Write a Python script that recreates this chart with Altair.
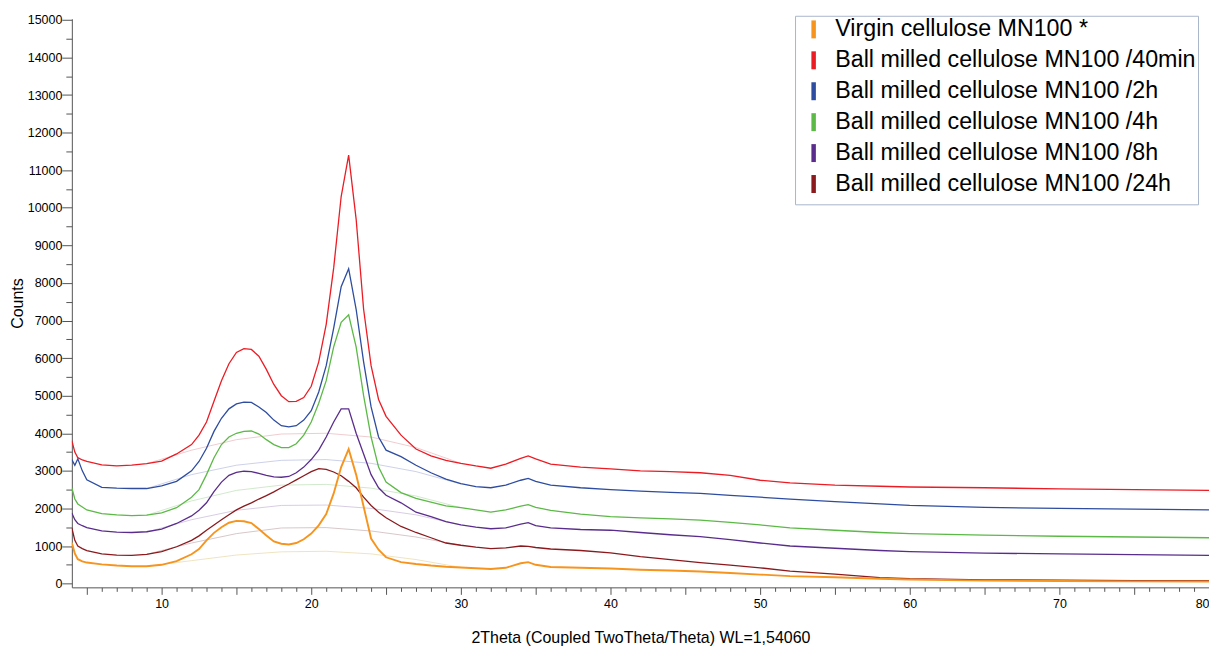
import altair as alt
import pandas as pd

# 2-theta positions (degrees) at which the traces were read
X = [4.0, 4.2, 4.4, 4.7, 5.0, 6, 7, 8, 9, 10, 11, 12, 12.5, 13, 13.5, 14, 14.5, 15, 15.5, 16,
     16.5, 17, 17.5, 18, 18.5, 19, 19.5, 20, 20.5, 21, 21.5, 22, 22.5, 23, 23.5, 24, 24.5, 25,
     26, 27, 28, 29, 30, 31, 32, 33, 34, 34.5, 35, 36, 38, 40, 42, 44, 46, 48, 50, 52, 55, 58,
     60, 65, 70, 75, 80]

RED_40MIN = [3800, 3500, 3350, 3290, 3250, 3160, 3130, 3150, 3190, 3260, 3450, 3700, 3950, 4300,
             4850, 5400, 5850, 6150, 6250, 6230, 6050, 5700, 5300, 5000, 4840, 4850, 4950, 5250,
             5900, 6900, 8400, 10300, 11400, 9700, 7300, 5800, 4900, 4450, 3950, 3580, 3400,
             3280, 3200, 3130, 3070, 3180, 3330, 3400, 3320, 3180, 3100, 3050, 3000, 2980, 2950,
             2880, 2750, 2680, 2620, 2590, 2570, 2550, 2520, 2500, 2480]

BLUE_2H = [3300, 3150, 3320, 3000, 2760, 2560, 2540, 2530, 2530, 2600, 2720, 3000, 3250, 3600,
           4050, 4400, 4650, 4780, 4830, 4820, 4700, 4550, 4350, 4200, 4170, 4200, 4350, 4600,
           5100, 5800, 6800, 7900, 8380, 7300, 5900, 4700, 3900, 3550, 3380, 3150, 2950, 2780,
           2660, 2580, 2550, 2620, 2750, 2800, 2720, 2620, 2550, 2500, 2460, 2430, 2400, 2350,
           2300, 2250, 2180, 2120, 2080, 2030, 2000, 1980, 1960]

GREEN_4H = [2550, 2250, 2120, 2040, 1960, 1860, 1830, 1810, 1820, 1880, 2020, 2300, 2500, 2900,
            3350, 3700, 3900, 4000, 4050, 4060, 3980, 3830, 3700, 3620, 3620, 3720, 3950, 4300,
            4800, 5400, 6300, 6950, 7150, 6300, 5000, 3900, 3100, 2700, 2420, 2270, 2170, 2070,
            2020, 1960, 1900, 1960, 2060, 2100, 2030, 1950, 1850, 1780, 1750, 1720, 1690, 1630,
            1560, 1480, 1420, 1360, 1330, 1290, 1260, 1240, 1220]

PURPLE_8H = [1880, 1700, 1600, 1540, 1490, 1400, 1370, 1360, 1380, 1450, 1600, 1800, 1950, 2150,
             2450, 2700, 2880, 2960, 2990, 2980, 2930, 2880, 2840, 2830, 2850, 2950, 3100, 3300,
             3550, 3900, 4300, 4650, 4650, 4000, 3450, 2900, 2550, 2350, 2150, 1900, 1780, 1650,
             1560, 1500, 1460, 1480, 1580, 1620, 1540, 1480, 1440, 1420, 1360, 1300, 1250, 1170,
             1080, 1000, 940, 880, 850, 810, 790, 770, 750]

DARKRED_24H = [1480, 1150, 1000, 930, 880, 790, 760, 750, 780, 850, 980, 1150, 1270, 1420, 1560,
               1700, 1830, 1960, 2060, 2150, 2250, 2340, 2440, 2550, 2650, 2760, 2870, 2980,
               3060, 3040, 2970, 2870, 2720, 2550, 2300, 2080, 1900, 1750, 1520, 1360, 1220,
               1080, 1020, 970, 930, 950, 1000, 990, 960, 920, 880, 820, 720, 640, 560, 490, 420,
               330, 250, 160, 130, 100, 90, 80, 80]

ORANGE_VIRGIN = [1090, 800, 650, 590, 560, 510, 480, 460, 460, 500, 600, 780, 920, 1150, 1350,
                 1500, 1620, 1670, 1660, 1610, 1450, 1280, 1120, 1060, 1040, 1080, 1180, 1330,
                 1550, 1850, 2400, 3100, 3580, 2900, 2050, 1200, 900, 700, 570, 520, 480, 450,
                 430, 410, 390, 420, 540, 570, 500, 440, 420, 400, 370, 350, 320, 280, 240, 200,
                 170, 130, 110, 80, 70, 60, 55]

# faint amorphous background humps
BG_X = [9, 12, 15, 18, 21, 24, 27, 30]
BG_VIRGIN = [460, 610, 760, 845, 860, 790, 640, 430]
BG_40MIN = [3190, 3550, 3830, 3980, 4000, 3900, 3620, 3200]
BG_2H = [2530, 2900, 3150, 3280, 3300, 3200, 2980, 2650]
BG_4H = [1820, 2200, 2480, 2620, 2640, 2540, 2330, 2020]
BG_8H = [1370, 1700, 1950, 2080, 2090, 2000, 1830, 1560]
BG_24H = [780, 1080, 1330, 1480, 1490, 1400, 1240, 1020]

SERIES = ["Virgin cellulose MN100 *",
          "Ball milled cellulose MN100 /40min",
          "Ball milled cellulose MN100 /2h",
          "Ball milled cellulose MN100 /4h",
          "Ball milled cellulose MN100 /8h",
          "Ball milled cellulose MN100 /24h"]
COLORS = ["#f7941e", "#ec1c24", "#2e4da0", "#5cb947", "#5a2d8c", "#8a1a1d"]
BG_COLORS = ["#e8d9a8", "#e8b8bc", "#b8bfe0", "#bfe0b8", "#c8b8d8", "#c8b0b4"]

main_vals = [ORANGE_VIRGIN, RED_40MIN, BLUE_2H, GREEN_4H, PURPLE_8H, DARKRED_24H]
bg_vals = [BG_VIRGIN, BG_40MIN, BG_2H, BG_4H, BG_8H, BG_24H]
widths = {SERIES[0]: 1.9}

rows = []
# draw milled series first, virgin last (on top)
for i in list(range(1, 6)) + [0]:
    for x, y in zip(X, main_vals[i]):
        rows.append({"x": x, "y": y, "series": SERIES[i], "order": i,
                     "w": widths.get(SERIES[i], 1.3)})
df = pd.DataFrame(rows)

bg_rows = []
for i in range(6):
    for x, y in zip(BG_X, bg_vals[i]):
        bg_rows.append({"x": x, "y": y, "series": SERIES[i] + " bg"})
df_bg = pd.DataFrame(bg_rows)

FONT = "Liberation Sans"

x_scale = alt.Scale(domain=[4, 80], nice=False, zero=False)
y_scale = alt.Scale(domain=[-100, 15030], nice=False, zero=False)

x_axis = alt.Axis(
    values=list(range(5, 81)),
    labelExpr="datum.value % 10 === 0 ? datum.label : ''",
    tickSize={"condition": {"test": "datum.value % 5 === 0", "value": 7}, "value": 4},
    grid=False, domainColor="#555555", tickColor="#555555", labelColor="#000000",
    labelFont=FONT, labelFontSize=12.5, labelPadding=3, labelFlush=True,
    title="2Theta (Coupled TwoTheta/Theta) WL=1,54060", titleFont=FONT,
    titleFontSize=16, titleFontWeight="normal", titleColor="#000000", titlePadding=20,
)
y_axis = alt.Axis(
    values=list(range(0, 15001, 500)),
    labelExpr="datum.value % 1000 === 0 ? format(datum.value, 'd') : ''",
    tickSize={"condition": {"test": "datum.value % 1000 === 0", "value": 10}, "value": 6},
    grid=False, domainColor="#555555", tickColor="#555555", labelColor="#000000",
    labelFont=FONT, labelFontSize=12.5, labelPadding=0,
    title="Counts", titleFont=FONT, titleFontSize=16, titleFontWeight="normal",
    titleColor="#000000", titlePadding=2,
)

bg = alt.Chart(df_bg).mark_line(strokeWidth=0.9, opacity=0.8, clip=True).encode(
    x=alt.X("x:Q", scale=x_scale, axis=x_axis),
    y=alt.Y("y:Q", scale=y_scale, axis=y_axis),
    detail="series:N",
    stroke=alt.Stroke("series:N", scale=alt.Scale(
        domain=[s + " bg" for s in SERIES], range=BG_COLORS), legend=None),
)

lines = alt.Chart(df).mark_line(clip=True).encode(
    x=alt.X("x:Q", scale=x_scale, axis=x_axis),
    y=alt.Y("y:Q", scale=y_scale, axis=y_axis),
    color=alt.Color("series:N", scale=alt.Scale(domain=SERIES, range=COLORS),
                    legend=alt.Legend(
                        orient="none", legendX=725, legendY=-3, title=None,
                        symbolType="M0,-1V1", symbolSize=324, symbolStrokeWidth=4.5,
                        symbolOffset=5,
                        labelFont=FONT, labelFontSize=23.3, labelColor="#000000",
                        labelLimit=600, labelOffset=10, padding=2, rowPadding=-6,
                        strokeColor="#a9b6cb", fillColor="#ffffff", symbolOpacity=1)),
    strokeWidth=alt.StrokeWidth("w:Q", scale=None, legend=None),
    order=alt.Order("order:Q"),
)

chart = alt.layer(bg, lines).resolve_scale(stroke="independent", color="independent").properties(
    width=1140, height=570,
    autosize=alt.AutoSizeParams(type="none"),
    padding={"left": 64, "top": 10, "right": 0, "bottom": 58},
).configure_view(stroke=None)

chart.save("out.html", embed_options={"renderer": "svg", "actions": False})
